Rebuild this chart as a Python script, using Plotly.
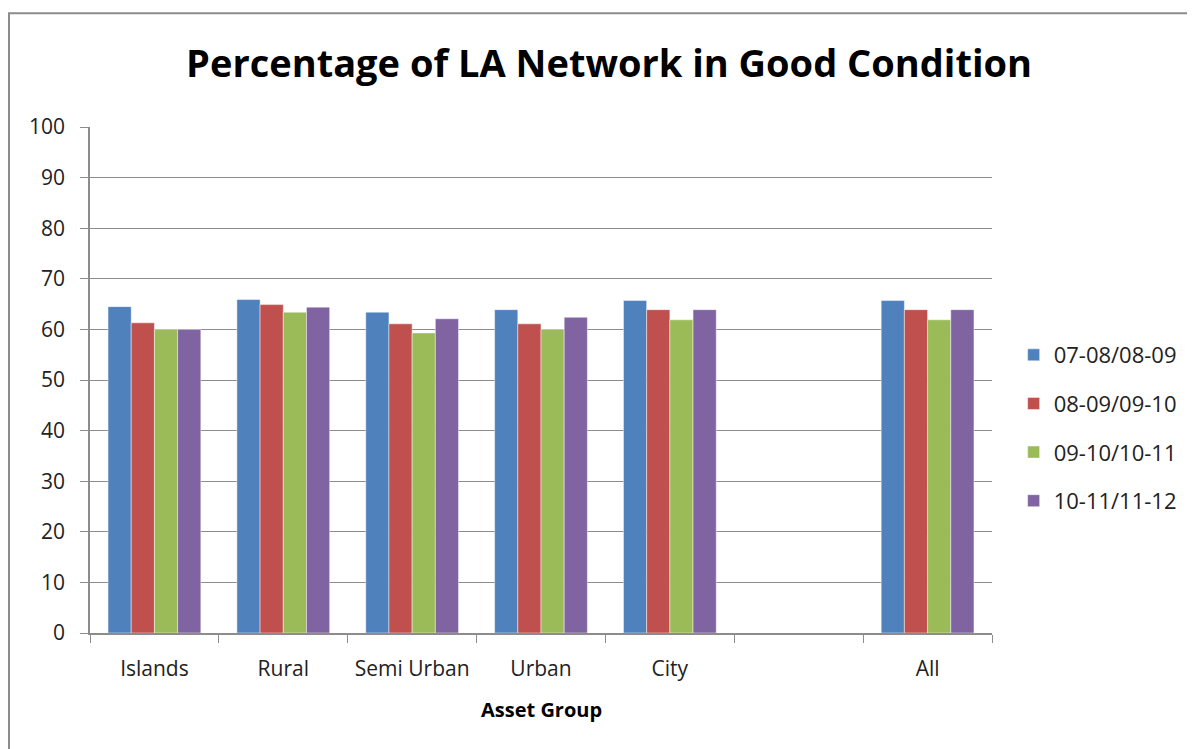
import plotly.graph_objects as go

categories = ["Islands", "Rural", "Semi Urban", "Urban", "City", " ", "All"]
series_names = ["07-08/08-09", "08-09/09-10", "09-10/10-11", "10-11/11-12"]
s1 = [64.5, 65.9, 63.4, 63.9, 65.7, None, 65.7]
s2 = [61.3, 64.9, 61.1, 61.1, 63.9, None, 63.9]
s3 = [60.0, 63.4, 59.3, 60.0, 61.9, None, 61.9]
s4 = [60.0, 64.4, 62.1, 62.4, 63.9, None, 63.9]
colors = ["#4F81BD", "#C0504D", "#9BBB59", "#8064A2"]
y_ticks = [0, 10, 20, 30, 40, 50, 60, 70, 80, 90, 100]

fig = go.Figure()
for i, (name, vals) in enumerate(zip(series_names, [s1, s2, s3, s4])):
    fig.add_trace(go.Bar(
        x=categories, y=vals, name=name, legendgroup=name,
        marker=dict(color=colors[i], line=dict(color="rgba(255,255,255,0.45)", width=1)),
    ))

tick_font = dict(family="Open Sans", size=21, color="#222222")

fig.update_layout(
    width=1195, height=749,
    paper_bgcolor="white", plot_bgcolor="white",
    margin=dict(l=82, r=211, t=119, b=124, autoexpand=False),
    barmode="group", bargap=0.28, bargroupgap=0,
    title=dict(text="<b>Percentage of LA Network in Good Condition</b>",
               font=dict(family="Open Sans", size=38, color="black"),
               x=0.503, xanchor="center", y=0.925, yanchor="middle"),
    legend=dict(x=1.024, xanchor="left", y=0.405, yanchor="middle",
                font=dict(family="Open Sans", size=22, color="#222222"),
                tracegroupgap=17, bgcolor="rgba(0,0,0,0)"),
    xaxis=dict(
        type="category", categoryorder="array", categoryarray=categories,
        showline=True, linecolor="#8C8C8C", linewidth=1.5,
        ticks="outside", ticklen=8, tickcolor="#8C8C8C", tickwidth=1,
        tickson="boundaries", showgrid=False, tickangle=0, automargin=False,
        tickfont=tick_font, ticklabelstandoff=16,
    ),
    yaxis=dict(
        range=[0, 100], tickvals=y_ticks, ticktext=[str(v) for v in y_ticks],
        showline=True, linecolor="#8C8C8C", linewidth=1.5,
        ticks="outside", ticklen=8, tickcolor="#8C8C8C", tickwidth=1,
        showgrid=True, gridcolor="#8C8C8C", gridwidth=1, zeroline=False,
        tickfont=tick_font, ticklabelstandoff=11, automargin=False,
    ),
    annotations=[dict(text="<b>Asset Group</b>", xref="paper", yref="paper",
                      x=0.5, y=-0.152, xanchor="center", yanchor="middle",
                      showarrow=False, font=dict(family="Open Sans", size=20, color="black"))],
    shapes=[dict(type="rect", xref="paper", yref="paper",
                 x0=-0.0898, x1=1.3, y0=-0.4, y1=1.225,
                 line=dict(color="#8C8C8C", width=2), fillcolor="rgba(0,0,0,0)", layer="below")],
)

fig.write_html("out.html")
